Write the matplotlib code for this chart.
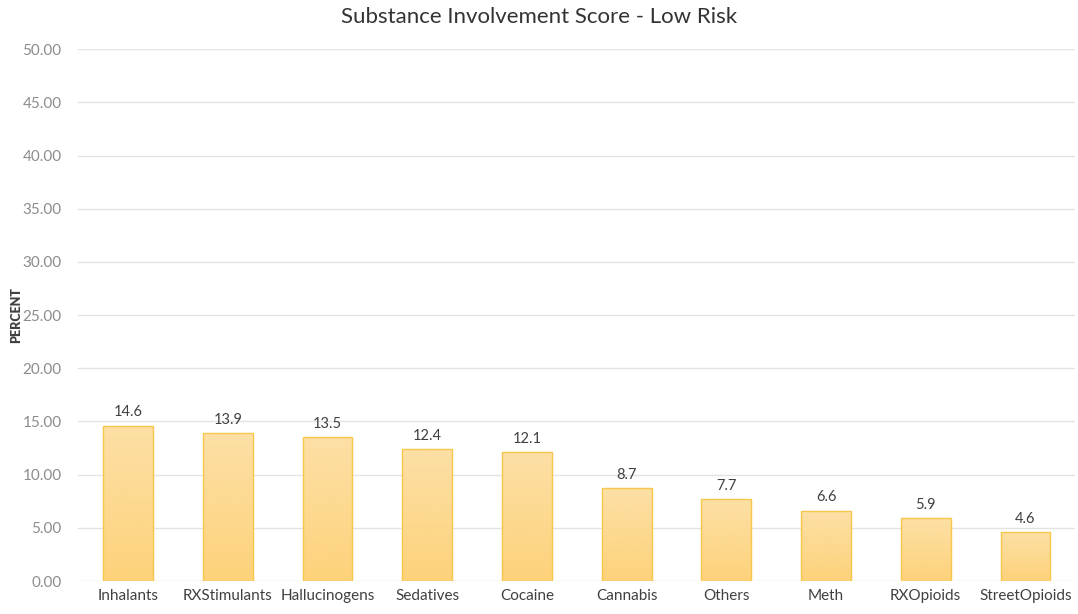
import numpy as np
import matplotlib
matplotlib.use("Agg")
import matplotlib.pyplot as plt
from matplotlib.colors import LinearSegmentedColormap

plt.rcParams['font.family'] = ['Lato', 'DejaVu Sans']

categories = ['Inhalants', 'RXStimulants', 'Hallucinogens', 'Sedatives', 'Cocaine',
              'Cannabis', 'Others', 'Meth', 'RXOpioids', 'StreetOpioids']
values = [14.6, 13.9, 13.5, 12.4, 12.1, 8.7, 7.7, 6.6, 5.9, 4.6]
yticks = np.arange(0, 50.01, 5)

fig = plt.figure(figsize=(10.78, 6.14), dpi=100)
ax = fig.add_axes([0.0725, 0.0537, 0.925, 0.8663])

x = np.arange(len(categories))
bars = ax.bar(x, values, width=0.5, color='none', edgecolor='#F8C64A', linewidth=1.0, zorder=3)

# vertical gradient fill, light at top, stronger at bottom
cmap = LinearSegmentedColormap.from_list('grad', ['#FDD27A', '#FDE0A6'])
grad = np.linspace(0, 1, 256).reshape(-1, 1)
for b in bars:
    x0, y0 = b.get_x(), b.get_y()
    w, h = b.get_width(), b.get_height()
    im = ax.imshow(grad, cmap=cmap, aspect='auto', origin='lower',
                   extent=[x0, x0 + w, y0, y0 + h], zorder=2)
    im.set_clip_path(b)

for xi, v in zip(x, values):
    ax.text(xi, v + 0.6, f'{v:.1f}', ha='center', va='bottom', fontsize=10.5, color='#404040')

ax.set_xlim(-0.5, len(categories) - 0.5)
ax.set_ylim(0, 50)
ax.set_yticks(yticks)
ax.set_yticklabels([f'{t:.2f}' for t in yticks])
ax.set_xticks(x)
ax.set_xticklabels(categories)
ax.tick_params(axis='y', length=0, labelsize=11, labelcolor='#8C8C8C', pad=12)
ax.tick_params(axis='x', length=0, labelsize=11, labelcolor='#404040', pad=6)
ax.grid(axis='y', color='#E3E3E3', linewidth=1.0, zorder=0)
ax.set_axisbelow(True)
for s in ax.spines.values():
    s.set_visible(False)

ax.set_ylabel('PERCENT', fontsize=9, fontweight='heavy', color='#404040')
ax.yaxis.set_label_coords(-0.056, 0.5)
fig.suptitle('Substance Involvement Score - Low Risk', fontsize=16, color='#333333', y=0.988)

fig.savefig('out.png', dpi=100, facecolor='white')
